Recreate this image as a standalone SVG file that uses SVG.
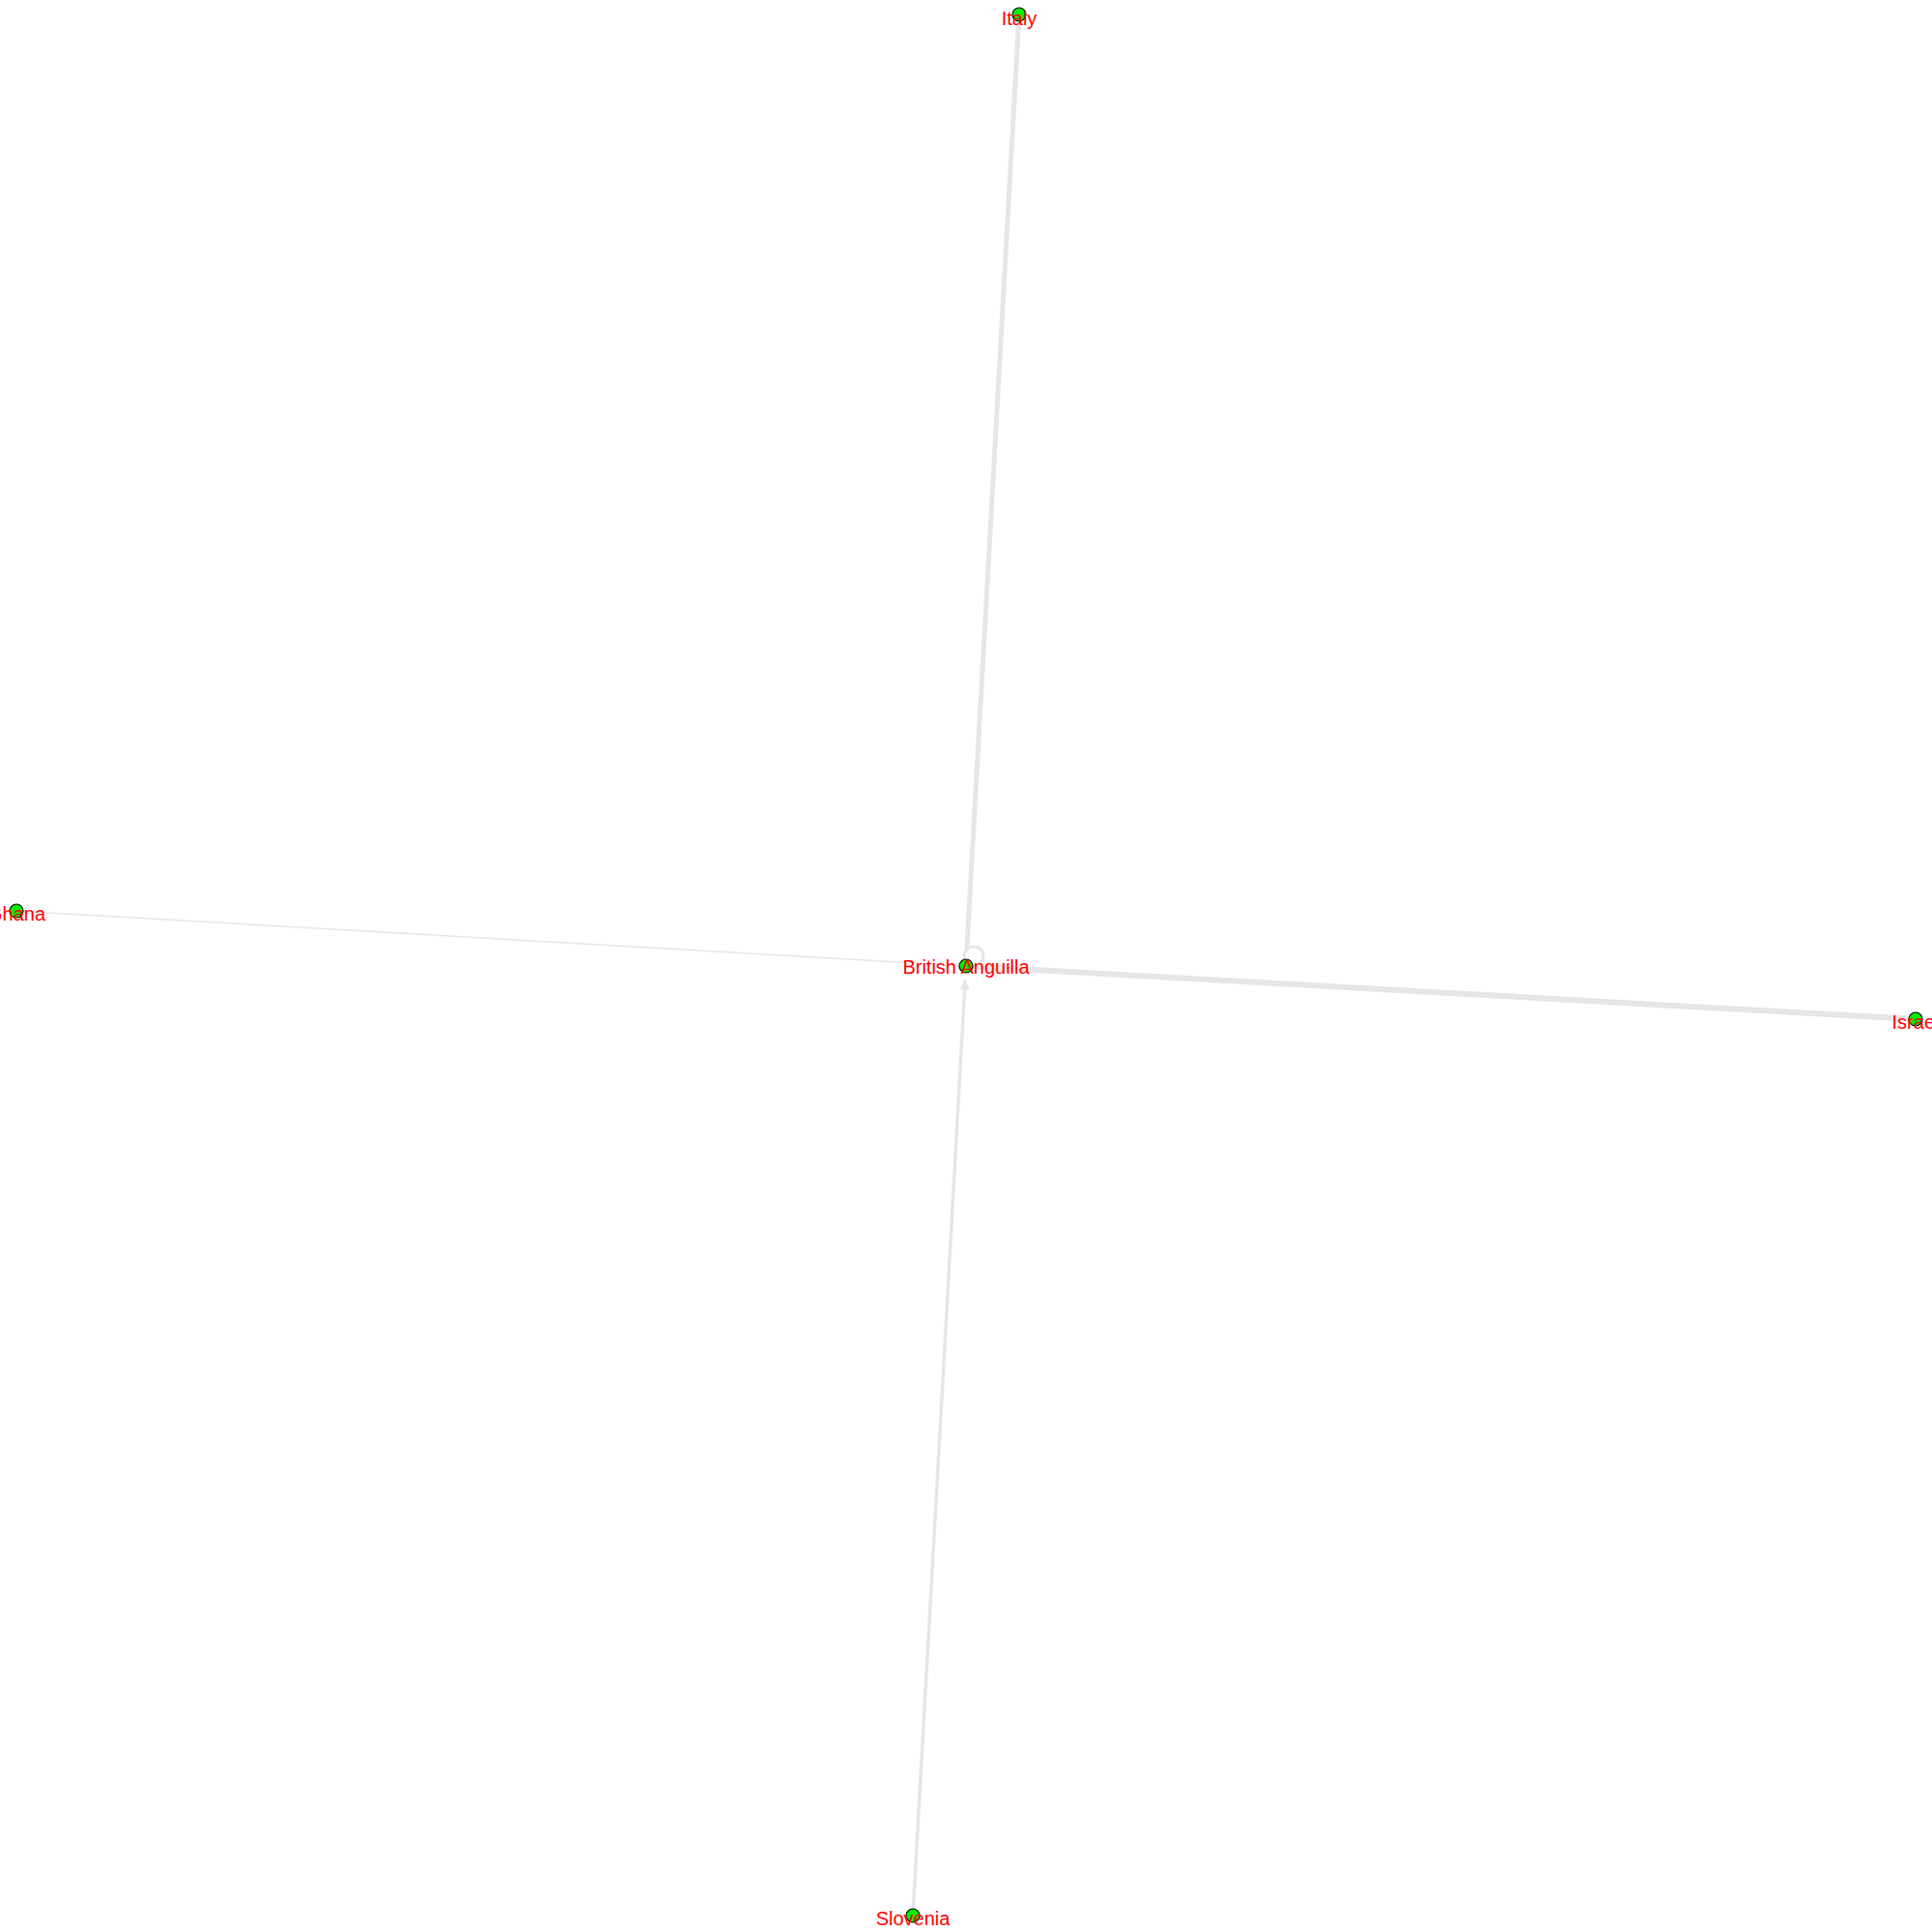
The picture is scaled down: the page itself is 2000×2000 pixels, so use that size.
<svg xmlns="http://www.w3.org/2000/svg" width="2000" height="2000" viewBox="0 0 2000 2000">
<style>
.edge{stroke:#e6e6e6;fill:none;stroke-linecap:butt}
.node circle{fill:#00ee00;stroke:#000;stroke-width:1.2}
.node text{fill:#ff0000;font-family:"Liberation Sans",Arial,sans-serif;font-size:20px;text-anchor:middle}
</style>
<defs>
<marker id="arr" viewBox="0 0 10 10" refX="10" refY="5" markerWidth="3" markerHeight="3" orient="auto" markerUnits="strokeWidth">
<path d="M0,0 L10,5 L0,10 z" fill="#e6e6e6"/>
</marker>
</defs>
<rect width="2000" height="2000" fill="#fff"/>
<g id="edges">
<line class="edge" x1="1055" y1="15" x2="1000.9" y2="982" stroke-width="5"/>
<line class="edge" x1="1983" y1="1055" x2="1000" y2="1000" stroke-width="6"/>
<line class="edge" x1="17" y1="943" x2="1000" y2="1000" stroke-width="1.5"/>
<line class="edge" x1="945" y1="1983" x2="999.2" y2="1014" stroke-width="3.5" marker-end="url(#arr)"/>
<circle class="edge" cx="1008" cy="990" r="10" stroke-width="3"/>
</g>
<g id="node-italy" class="node"><circle cx="1055" cy="15" r="7"/><text x="1055" y="26">Italy</text></g>
<g id="node-british-anguilla" class="node"><circle cx="1000" cy="1000" r="7"/><text x="1000" y="1008">British Anguilla</text></g>
<g id="node-ghana" class="node"><circle cx="17" cy="943" r="7"/><text x="17" y="953">Ghana</text></g>
<g id="node-israel" class="node"><circle cx="1983" cy="1055" r="7"/><text x="1983" y="1065">Israel</text></g>
<g id="node-slovenia" class="node"><circle cx="945" cy="1983" r="7"/><text x="945" y="1993">Slovenia</text></g>
</svg>
